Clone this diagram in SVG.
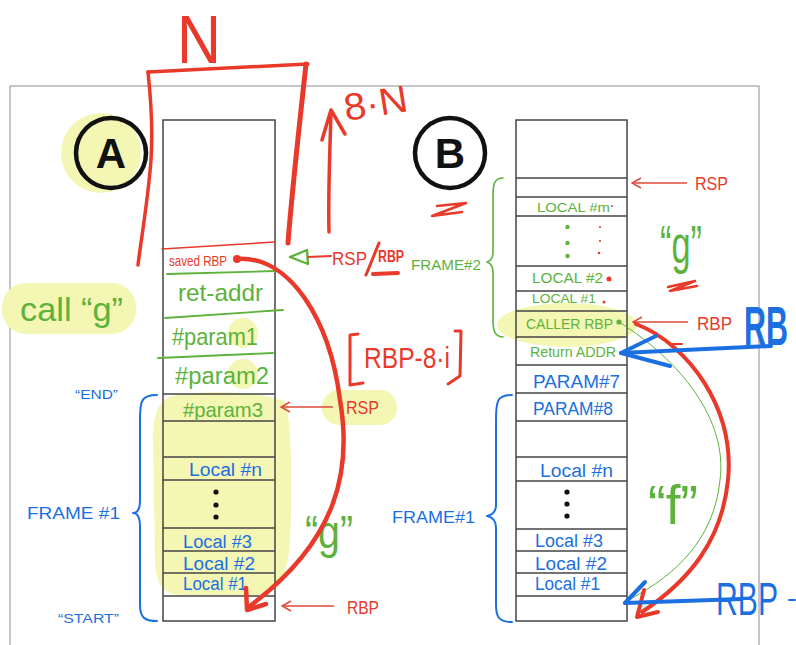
<svg xmlns="http://www.w3.org/2000/svg" width="796" height="645" viewBox="0 0 796 645">
  <style>
    text { font-family: "Liberation Sans", Arial, sans-serif; }
    .cell { fill: none; stroke: #444; stroke-width: 1.5; }
    .row { stroke: #444; stroke-width: 1.5; }
    .red { fill: #e8392a; }
    .green { fill: #5cb23b; }
    .blue { fill: #1b6fe0; }
    .hl { fill: #f4f6b4; }
    .rline { fill: none; stroke: #e8392a; stroke-linecap: round; stroke-linejoin: round; }
    .gline { fill: none; stroke: #5cb23b; stroke-linecap: round; stroke-linejoin: round; }
    .bline { fill: none; stroke: #1b6fe0; stroke-linecap: round; stroke-linejoin: round; }
    .ptr { fill: none; stroke: #e04a3a; stroke-width: 1.5; }
  </style>
  <defs>
    <marker id="open" markerWidth="12" markerHeight="12" refX="11" refY="6" orient="auto" markerUnits="userSpaceOnUse">
      <path d="M2,1 L11,6 L2,11" fill="none" stroke="#e04a3a" stroke-width="1.5"/>
    </marker>
  </defs>

  <rect width="796" height="645" fill="#ffffff"/>
  <!-- page border -->
  <rect x="10" y="86" width="749" height="620" fill="none" stroke="#a0a0a0" stroke-width="1.2"/>

  <!-- highlighter marks -->
  <g id="highlights">
    <ellipse class="hl" cx="101" cy="153" rx="40" ry="40"/>
    <rect class="hl" x="2" y="283" width="134" height="51" rx="24"/>
    <path class="hl" d="M172,396 C205,390 262,391 285,402 C293,425 292,500 290,540 C288,572 282,590 258,595 L182,595 C162,595 155,582 155,560 L153,440 C153,416 158,400 172,396 Z"/>
    <circle class="hl" cx="243" cy="333" r="15"/>
    <circle class="hl" cx="243" cy="374" r="15"/>
    <rect class="hl" x="322" y="390" width="75" height="35" rx="17"/>
    <ellipse class="hl" cx="567" cy="325" rx="70" ry="22"/>
  </g>

  <!-- stack A -->
  <g id="stack-a">
    <rect class="cell" x="163" y="120" width="112" height="501"/>
    <line class="row" x1="163" y1="394" x2="275" y2="394"/>
    <line class="row" x1="163" y1="421" x2="275" y2="421"/>
    <line class="row" x1="163" y1="457" x2="275" y2="457"/>
    <line class="row" x1="163" y1="480" x2="275" y2="480"/>
    <line class="row" x1="163" y1="528" x2="275" y2="528"/>
    <line class="row" x1="163" y1="551" x2="275" y2="551"/>
    <line class="row" x1="163" y1="573" x2="275" y2="573"/>
    <line class="row" x1="163" y1="596" x2="275" y2="596"/>
    <path class="rline" stroke-width="1.6" d="M162,249 L275,242"/>
    <path class="gline" stroke-width="1.8" d="M167,274 L275,271"/>
    <path class="gline" stroke-width="1.8" d="M165,318 L283,310"/>
    <path class="gline" stroke-width="1.8" d="M158,358 L273,353"/>
    <text class="red" x="169" y="266" font-size="15" textLength="58" lengthAdjust="spacingAndGlyphs">saved RBP</text>
    <circle class="red" cx="237" cy="259" r="4"/>
    <text class="green" x="178" y="301" font-size="24" textLength="85" lengthAdjust="spacingAndGlyphs">ret-addr</text>
    <text class="green" x="172" y="345" font-size="24" textLength="86" lengthAdjust="spacingAndGlyphs">#param1</text>
    <text class="green" x="175" y="384" font-size="23" textLength="94" lengthAdjust="spacingAndGlyphs">#param2</text>
    <text class="green" x="183" y="417" font-size="21" textLength="80" lengthAdjust="spacingAndGlyphs">#param3</text>
    <text class="blue" x="189" y="476" font-size="18" textLength="73" lengthAdjust="spacingAndGlyphs">Local #n</text>
    <circle cx="216" cy="492" r="2.6" fill="#111"/>
    <circle cx="216" cy="505" r="2.6" fill="#111"/>
    <circle cx="216" cy="517" r="2.6" fill="#111"/>
    <text class="blue" x="183" y="548" font-size="18" textLength="69" lengthAdjust="spacingAndGlyphs">Local #3</text>
    <text class="blue" x="183" y="570" font-size="18" textLength="72" lengthAdjust="spacingAndGlyphs">Local #2</text>
    <text class="blue" x="183" y="590" font-size="18" textLength="64" lengthAdjust="spacingAndGlyphs">Local #1</text>
  </g>

  <!-- stack B -->
  <g id="stack-b">
    <rect class="cell" x="516" y="120" width="111" height="501"/>
    <line class="row" x1="516" y1="178" x2="627" y2="178"/>
    <line class="row" x1="516" y1="197" x2="627" y2="197"/>
    <line class="row" x1="516" y1="216" x2="627" y2="216"/>
    <line class="row" x1="516" y1="266" x2="627" y2="266"/>
    <line class="row" x1="516" y1="291" x2="627" y2="291"/>
    <line class="row" x1="516" y1="311" x2="627" y2="311"/>
    <line class="row" x1="516" y1="337" x2="627" y2="337"/>
    <line class="row" x1="516" y1="365" x2="627" y2="365"/>
    <line class="row" x1="516" y1="393" x2="627" y2="393"/>
    <line class="row" x1="516" y1="421" x2="627" y2="421"/>
    <line class="row" x1="516" y1="457" x2="627" y2="457"/>
    <line class="row" x1="516" y1="481" x2="627" y2="481"/>
    <line class="row" x1="516" y1="529" x2="627" y2="529"/>
    <line class="row" x1="516" y1="551" x2="627" y2="551"/>
    <line class="row" x1="516" y1="573" x2="627" y2="573"/>
    <line class="row" x1="516" y1="596" x2="627" y2="596"/>
    <text class="green" x="537" y="212" font-size="13" textLength="73" lengthAdjust="spacingAndGlyphs">LOCAL #m</text>
    <circle class="red" cx="612" cy="206" r="1"/>
    <circle class="green" cx="567.5" cy="227" r="2.2"/>
    <circle class="green" cx="567.5" cy="243" r="2.2"/>
    <circle class="green" cx="567.5" cy="256" r="2.2"/>
    <circle class="red" cx="600" cy="227" r="1.1"/>
    <circle class="red" cx="600" cy="241" r="1.1"/>
    <circle class="red" cx="599" cy="253" r="1.3"/>
    <text class="green" x="532" y="283" font-size="14" textLength="71" lengthAdjust="spacingAndGlyphs">LOCAL #2</text>
    <circle class="red" cx="609" cy="279" r="2.5"/>
    <text class="green" x="532" y="303" font-size="13" textLength="64" lengthAdjust="spacingAndGlyphs">LOCAL #1</text>
    <circle class="red" cx="604" cy="302" r="1.5"/>
    <text class="green" x="526" y="329" font-size="15" textLength="87" lengthAdjust="spacingAndGlyphs">CALLER RBP</text>
    <circle class="green" cx="619" cy="322" r="2.6"/>
    <text class="green" x="530" y="357" font-size="15" textLength="86" lengthAdjust="spacingAndGlyphs">Return ADDR</text>
    <text class="blue" x="533" y="388" font-size="19" textLength="87" lengthAdjust="spacingAndGlyphs">PARAM#7</text>
    <text class="blue" x="533" y="415" font-size="19" textLength="80" lengthAdjust="spacingAndGlyphs">PARAM#8</text>
    <text class="blue" x="540" y="477" font-size="18" textLength="73" lengthAdjust="spacingAndGlyphs">Local #n</text>
    <circle cx="567" cy="492" r="2.6" fill="#111"/>
    <circle cx="567" cy="504" r="2.6" fill="#111"/>
    <circle cx="567" cy="516" r="2.6" fill="#111"/>
    <text class="blue" x="535" y="547" font-size="18" textLength="68" lengthAdjust="spacingAndGlyphs">Local #3</text>
    <text class="blue" x="535" y="570" font-size="18" textLength="72" lengthAdjust="spacingAndGlyphs">Local #2</text>
    <text class="blue" x="535" y="590" font-size="18" textLength="65" lengthAdjust="spacingAndGlyphs">Local #1</text>
  </g>

  <!-- section badges -->
  <g id="badge-a">
    <circle cx="111" cy="153" r="35" fill="none" stroke="#111" stroke-width="4.5"/>
    <text x="111" y="168" font-size="42" font-weight="bold" text-anchor="middle" fill="#111">A</text>
  </g>
  <g id="badge-b">
    <circle cx="450" cy="153" r="35" fill="none" stroke="#111" stroke-width="4.5"/>
    <text x="450" y="168" font-size="42" font-weight="bold" text-anchor="middle" fill="#111">B</text>
  </g>

  <!-- side labels -->
  <g id="labels-a">
    <text class="green" x="20" y="321" font-size="34" textLength="103" lengthAdjust="spacingAndGlyphs">call “g”</text>
    <text class="blue" x="75" y="399" font-size="12" textLength="43" lengthAdjust="spacingAndGlyphs">“END”</text>
    <text class="blue" x="27" y="519" font-size="16" textLength="93" lengthAdjust="spacingAndGlyphs">FRAME #1</text>
    <text class="blue" x="58" y="623" font-size="12" textLength="61" lengthAdjust="spacingAndGlyphs">“START”</text>
    <text class="green" x="305" y="548" font-size="46" textLength="48" lengthAdjust="spacingAndGlyphs">“g”</text>
    <text class="red" x="346" y="414" font-size="18" textLength="33" lengthAdjust="spacingAndGlyphs">RSP</text>
    <text class="red" x="347" y="614" font-size="18" textLength="32" lengthAdjust="spacingAndGlyphs">RBP</text>
    <text class="red" x="332" y="265" font-size="18" textLength="35" lengthAdjust="spacingAndGlyphs">RSP</text>
    <text class="red" x="378" y="262" font-size="16" font-weight="bold" textLength="26" lengthAdjust="spacingAndGlyphs">RBP</text>
    <text class="green" x="411" y="270" font-size="14" textLength="70" lengthAdjust="spacingAndGlyphs">FRAME#2</text>
    <text class="red" x="364" y="368" font-size="29" textLength="86" lengthAdjust="spacingAndGlyphs">RBP-8·i</text>
    <text class="red" x="177" y="63" font-size="68" textLength="44" lengthAdjust="spacingAndGlyphs">N</text>
    <text class="red" x="346" y="121" font-size="38" textLength="64" lengthAdjust="spacingAndGlyphs" transform="rotate(-9 346 121)">8·N</text>
  </g>
  <g id="labels-b">
    <text class="red" x="695" y="190" font-size="18" textLength="33" lengthAdjust="spacingAndGlyphs">RSP</text>
    <text class="red" x="697" y="330" font-size="18" textLength="35" lengthAdjust="spacingAndGlyphs">RBP</text>
    <text class="green" x="660" y="263" font-size="54" textLength="42" lengthAdjust="spacingAndGlyphs">“g”</text>
    <text class="green" x="648" y="524" font-size="56" textLength="50" lengthAdjust="spacingAndGlyphs">“f”</text>
    <text class="blue" x="392" y="523" font-size="16" textLength="83" lengthAdjust="spacingAndGlyphs">FRAME#1</text>
    <text class="blue" x="744" y="345" font-size="56" font-weight="bold" textLength="44" lengthAdjust="spacingAndGlyphs">RB</text>
    <text class="blue" x="716" y="615" font-size="46" textLength="62" lengthAdjust="spacingAndGlyphs">RBP</text>
  </g>

  <!-- connectors: braces, brackets, pointers and curves -->
  <g id="connectors">
    <!-- frame braces -->
    <path class="bline" stroke-width="2" d="M157,395 C141,395 140,401 140,420 L140,500 C140,509 137,513 133,513 C137,513 140,517 140,527 L140,605 C140,618 145,621 157,621"/>
    <path class="bline" stroke-width="2" d="M512,395 C497,395 496,401 496,420 L496,505 C496,512 492,515 487,516 C492,517 496,520 496,528 L496,605 C496,618 500,622 512,622"/>
    <path class="gline" stroke-width="1.6" d="M503,178 C494,178 493,185 493,195 L493,252 C493,258 490,261 487,262 C490,263 493,266 493,272 L493,322 C493,332 497,337 503,337"/>

    <!-- N bracket over stack A -->
    <path class="rline" stroke-width="3.5" d="M148,72 C151,100 153,130 151,160 C148,200 141,240 138,265"/>
    <path class="rline" stroke-width="3.5" d="M148,72 L308,64"/>
    <path class="rline" stroke-width="5" d="M306,64 C300,120 292,190 288,243"/>
    <!-- upward growth arrow -->
    <path class="rline" stroke-width="3.5" d="M329,232 C328,190 330,150 331,112"/>
    <path class="rline" stroke-width="3.5" d="M322,140 L331,110 L345,134"/>

    <!-- RSP / RBP pointer into saved RBP -->
    <path class="gline" stroke-width="2.4" d="M290,257 L307,250 L308,264 Z"/>
    <path class="rline" stroke-width="1.8" d="M308,257 L331,256"/>
    <path class="rline" stroke-width="3" d="M366,275 L379,243"/>
    <path class="rline" stroke-width="4" d="M373,274 L398,273"/>

    <!-- [ RBP-8·i ] bracket -->
    <path class="rline" stroke-width="3" d="M358,334 L350,335 L350,385 L363,383"/>
    <path class="rline" stroke-width="3" d="M455,331 L461,331 L460,376 L448,384"/>

    <!-- scribbles -->
    <path class="rline" stroke-width="2.5" d="M437,206 L466,203 L432,216 L462,212"/>
    <path class="rline" stroke-width="2.5" d="M668,287 L695,281 L670,291 L697,286"/>
    <path class="rline" stroke-width="2" d="M672,344 L682,344"/>

    <!-- register pointers -->
    <path class="ptr" marker-end="url(#open)" d="M333,407 L281,407"/>
    <path class="ptr" marker-end="url(#open)" d="M334,606 L282,606"/>
    <path class="ptr" marker-end="url(#open)" d="M687,183 L632,183"/>
    <path class="ptr" marker-end="url(#open)" d="M688,322 L633,322"/>

    <!-- saved RBP chain in A -->
    <path class="rline" stroke-width="4.5" d="M237,259 C290,255 330,320 340,400 C352,470 338,540 250,606"/>
    <path class="rline" stroke-width="4.5" d="M246,588 L247,610 L266,604"/>

    <!-- caller RBP chain in B -->
    <path class="gline" stroke-width="1" d="M619,322 C680,360 728,420 720,480 C714,540 675,575 632,598"/>
    <path class="rline" stroke-width="4" d="M636,324 C690,345 735,410 728,480 C722,540 690,580 642,612"/>
    <path class="rline" stroke-width="4" d="M644,590 L637,617 L658,612"/>

    <!-- blue pointers -->
    <path class="bline" stroke-width="4" d="M771,346 L621,353"/>
    <path class="bline" stroke-width="4" d="M656,336 L621,353 L670,366"/>
    <path class="bline" stroke-width="4" d="M741,599 L625,603"/>
    <path class="bline" stroke-width="4" d="M645,582 L625,603"/>
    <path class="bline" stroke-width="2" d="M789,600 L795,600"/>
  </g>
</svg>
